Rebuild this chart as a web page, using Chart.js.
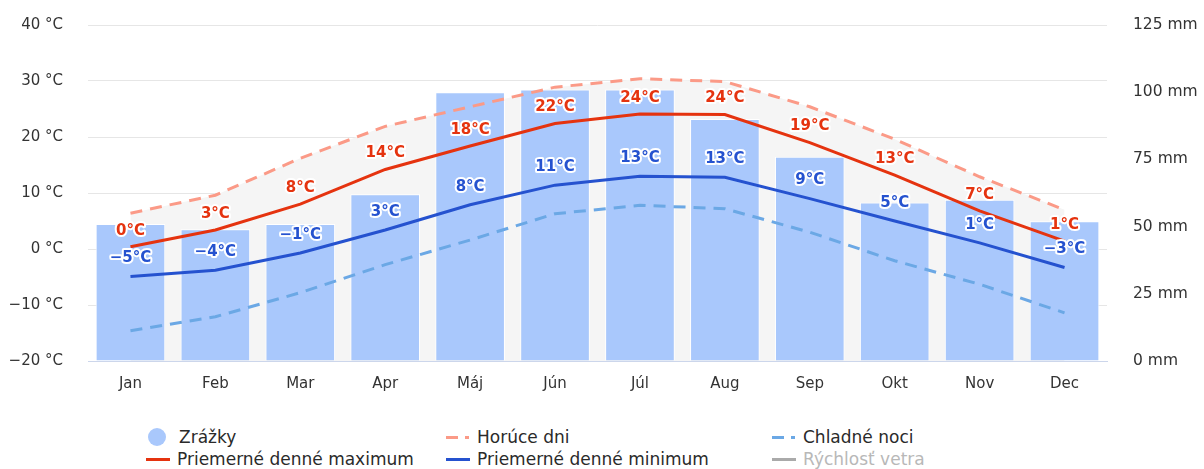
<!DOCTYPE html>
<html>
<head>
<meta charset="utf-8">
<script src="https://cdn.jsdelivr.net/npm/chart.js@4"></script>
<style>
  body { margin: 0; background: #fff; font-family: 'DejaVu Sans', sans-serif; }
  #wrap { position: relative; width: 1204px; height: 469px; }
  .lg { position: absolute; font-size: 17px; color: #2a2a2a; white-space: nowrap; line-height: 20px; }
  .sym { position: absolute; }
</style>
</head>
<body>
<div id="wrap">
  <canvas id="climate" width="1204" height="410"></canvas>
  <div id="legend"></div>
</div>
<script>
const months = ['Jan', 'Feb', 'Mar', 'Apr', 'Máj', 'Jún', 'Júl', 'Aug', 'Sep', 'Okt', 'Nov', 'Dec'];
const precipitation = [51, 49, 51, 62, 100, 101, 101, 90, 76, 59, 60, 52];
const hotDays = [6.4, 9.6, 16.2, 21.9, 25.4, 28.9, 30.4, 29.9, 25.4, 19.6, 12.9, 7.0];
const avgMax = [0.4, 3.4, 8.0, 14.2, 18.4, 22.4, 24.1, 24.0, 19.0, 13.2, 6.8, 1.4];
const avgMin = [-4.9, -3.8, -0.7, 3.4, 7.9, 11.4, 13.0, 12.8, 9.0, 5.0, 1.1, -3.3];
const coldNights = [-14.6, -12.1, -7.8, -2.8, 1.6, 6.3, 7.8, 7.2, 3.0, -2.1, -6.3, -11.4];
const tempTicks = [-20, -10, 0, 10, 20, 30, 40];
const rainTicks = [0, 25, 50, 75, 100, 125];

const RED = '#e5330f';
const BLUE = '#2552cf';
const BAR = '#a9c8fc';
const HOT = '#fb9a87';
const COLD = '#6ba8e5';

// draws the rounded °C values above the max / min lines
const pointLabels = {
  id: 'pointLabels',
  afterDatasetsDraw(chart) {
    const ctx = chart.ctx;
    ctx.save();
    ctx.font = 'bold 15px "DejaVu Sans"';
    ctx.textAlign = 'center';
    ctx.textBaseline = 'middle';
    ctx.lineJoin = 'round';
    chart.data.datasets.forEach((ds, i) => {
      if (!ds.showLabels) return;
      const meta = chart.getDatasetMeta(i);
      meta.data.forEach((pt, j) => {
        const v = Math.round(ds.data[j]);
        const txt = (v < 0 ? '\u2212' + Math.abs(v) : v) + '°C';
        const y = pt.y - ds.labelOffset;
        ctx.lineWidth = 4;
        ctx.strokeStyle = '#fff';
        ctx.strokeText(txt, pt.x, y);
        ctx.fillStyle = ds.borderColor;
        ctx.fillText(txt, pt.x, y);
      });
    });
    ctx.restore();
  }
};

new Chart(document.getElementById('climate'), {
  data: {
    labels: months,
    datasets: [
      {
        type: 'line', label: 'Horúce dni', data: hotDays, yAxisID: 'y',
        borderColor: HOT, borderWidth: 3, borderDash: [12, 8], pointRadius: 0,
        fill: 'start', backgroundColor: '#f5f5f5', order: 4
      },
      {
        type: 'line', label: 'Chladné noci', data: coldNights, yAxisID: 'y',
        borderColor: COLD, borderWidth: 3, borderDash: [12, 8], pointRadius: 0,
        fill: false, order: 3
      },
      {
        type: 'line', label: 'Priemerné denné minimum', data: avgMin, yAxisID: 'y',
        borderColor: BLUE, borderWidth: 3, pointRadius: 0, fill: false, order: 2,
        showLabels: true, labelOffset: 18
      },
      {
        type: 'line', label: 'Priemerné denné maximum', data: avgMax, yAxisID: 'y',
        borderColor: RED, borderWidth: 3, pointRadius: 0, fill: false, order: 1,
        showLabels: true, labelOffset: 16
      },
      {
        type: 'bar', label: 'Zrážky', data: precipitation, yAxisID: 'y1',
        backgroundColor: BAR, borderColor: '#ffffff', borderWidth: 1,
        barPercentage: 0.82, categoryPercentage: 1, order: 10
      }
    ]
  },
  options: {
    responsive: false,
    animation: false,
    layout: { padding: { top: 25, left: 0, right: 0, bottom: 0 } },
    plugins: {
      legend: { display: false },
      tooltip: { enabled: false },
      filler: { drawTime: 'beforeDatasetsDraw' }
    },
    scales: {
      x: {
        offset: true,
        grid: { display: false },
        border: { color: '#ccd6eb', width: 1 },
        ticks: { color: '#333', font: { family: 'DejaVu Sans', size: 15 }, padding: 6 },
        afterFit: (s) => { s.height = 49; }
      },
      y: {
        position: 'left',
        min: tempTicks[0], max: tempTicks[tempTicks.length - 1],
        afterBuildTicks: (s) => { s.ticks = tempTicks.map(v => ({ value: v })); },
        // invisible tick marks give the gap between labels and plot
        grid: { color: '#e6e6e6', tickColor: 'transparent', tickLength: 25 },
        border: { display: false },
        ticks: {
          color: '#333', font: { family: 'DejaVu Sans', size: 15 }, padding: 0,
          callback: (v) => (v < 0 ? '\u2212' + Math.abs(v) : v) + ' °C'
        },
        afterFit: (s) => { s.width = 88; }
      },
      y1: {
        position: 'right',
        min: rainTicks[0], max: rainTicks[rainTicks.length - 1],
        afterBuildTicks: (s) => { s.ticks = rainTicks.map(v => ({ value: v })); },
        grid: { color: 'transparent', tickColor: 'transparent', tickLength: 26 },
        border: { display: false },
        ticks: {
          color: '#333', font: { family: 'DejaVu Sans', size: 15.5 }, padding: 0,
          callback: (v) => v + ' mm'
        },
        afterFit: (s) => { s.width = 97; }
      }
    }
  },
  plugins: [pointLabels]
});

// legend laid out as in the reference: two rows, three columns
const legendItems = [
  { text: 'Zrážky', kind: 'dot', color: BAR, x: 148, y: 427 },
  { text: 'Horúce dni', kind: 'dash', color: HOT, x: 446, y: 427 },
  { text: 'Chladné noci', kind: 'dash', color: COLD, x: 772, y: 427 },
  { text: 'Priemerné denné maximum', kind: 'line', color: RED, x: 146, y: 449 },
  { text: 'Priemerné denné minimum', kind: 'line', color: BLUE, x: 446, y: 449 },
  { text: 'Rýchlosť vetra', kind: 'line', color: '#aaaaaa', x: 772, y: 449, off: true }
];
const legend = document.getElementById('legend');
legendItems.forEach(it => {
  const mid = it.y + 10;
  if (it.kind === 'dot') {
    legend.insertAdjacentHTML('beforeend',
      `<div class="sym" style="left:${it.x}px;top:${mid - 9}px;width:18px;height:18px;border-radius:50%;background:${it.color}"></div>`);
  } else if (it.kind === 'dash') {
    legend.insertAdjacentHTML('beforeend',
      `<div class="sym" style="left:${it.x}px;top:${mid - 1}px;width:12px;height:3px;background:${it.color}"></div>` +
      `<div class="sym" style="left:${it.x + 19}px;top:${mid - 1}px;width:4px;height:3px;background:${it.color}"></div>`);
  } else {
    legend.insertAdjacentHTML('beforeend',
      `<div class="sym" style="left:${it.x}px;top:${mid - 1}px;width:24px;height:3px;background:${it.color}"></div>`);
  }
  legend.insertAdjacentHTML('beforeend',
    `<div class="lg" style="left:${it.x + 31}px;top:${it.y}px;${it.off ? 'color:#b8b8b8' : ''}">${it.text}</div>`);
});
</script>
</body>
</html>
